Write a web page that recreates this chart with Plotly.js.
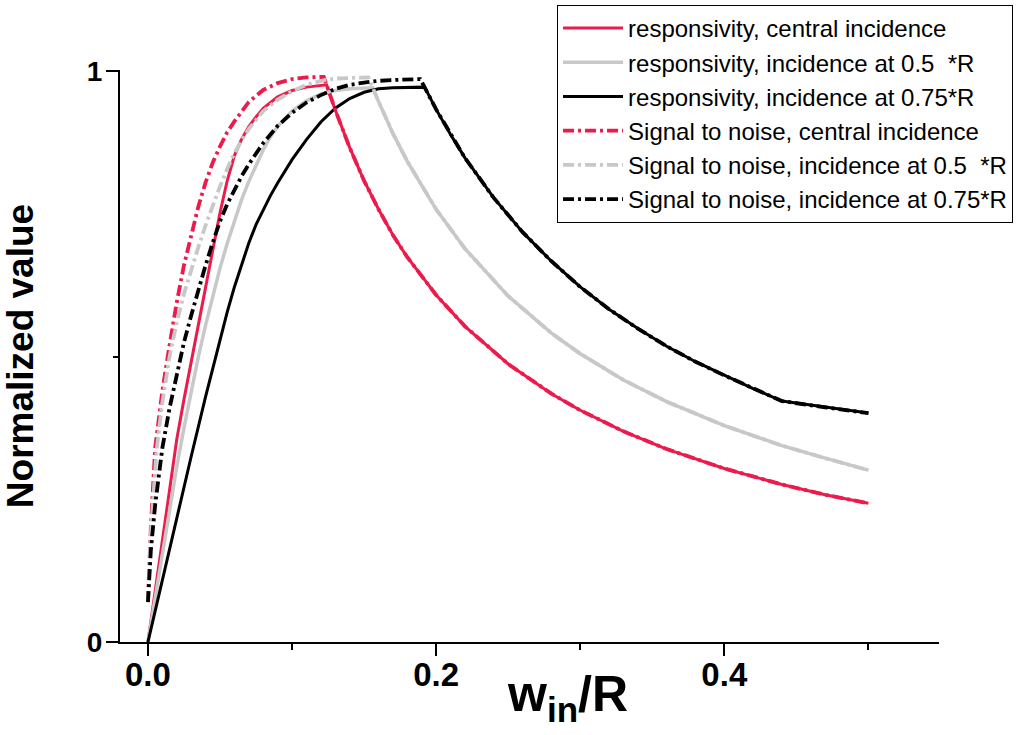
<!DOCTYPE html>
<html>
<head>
<meta charset="utf-8">
<script src="https://cdn.plot.ly/plotly-3.0.1.min.js"></script>
<style>html,body{margin:0;padding:0;background:#fff;}#chart{width:1020px;height:735px;}</style>
</head>
<body>
<div id="chart"></div>
<script>
// ---- data ----
const names = [
  "responsivity, central incidence",
  "responsivity, incidence at 0.5\u00a0 *R",
  "responsivity, incidence at 0.75*R",
  "Signal to noise, central incidence",
  "Signal to noise, incidence at 0.5\u00a0 *R",
  "Signal to noise, incidence at 0.75*R"
];

// responsivity, central incidence
const xRespC = [0,0.005,0.01,0.015,0.02,0.025,0.03,0.035,0.04,0.045,0.05,0.055,0.06,0.065,0.07,0.075,0.08,0.09,0.1,0.11,0.124,
  0.13,0.14,0.15,0.16,0.17,0.18,0.2,0.22,0.25,0.28,0.3,0.33,0.36,0.4,0.44,0.47,0.5];
const yRespC = [0,0.09,0.18,0.27,0.355,0.425,0.49,0.555,0.622,0.69,0.752,0.808,0.852,0.881,0.903,0.92,0.935,0.955,0.966,0.972,0.976,
  0.932,0.866,0.808,0.758,0.713,0.674,0.608,0.553,0.487,0.435,0.406,0.369,0.338,0.304,0.276,0.258,0.243];

// responsivity, incidence at 0.5*R
const xResp05 = [0,0.005,0.01,0.015,0.02,0.025,0.03,0.035,0.04,0.045,0.05,0.055,0.06,0.065,0.07,0.075,0.08,0.085,0.09,0.1,0.11,0.12,0.13,0.14,0.156,
  0.16,0.17,0.18,0.2,0.22,0.25,0.28,0.3,0.33,0.36,0.4,0.44,0.47,0.5];
const yResp05 = [0,0.078,0.155,0.232,0.307,0.375,0.44,0.5,0.555,0.607,0.655,0.698,0.738,0.775,0.807,0.836,0.862,0.885,0.903,0.93,0.948,0.96,0.966,0.969,0.971,
  0.947,0.891,0.842,0.758,0.689,0.606,0.541,0.505,0.459,0.421,0.379,0.344,0.322,0.301];

// responsivity, incidence at 0.75*R
const xResp075 = [0,0.01,0.02,0.03,0.04,0.05,0.055,0.06,0.065,0.07,0.075,0.08,0.085,0.09,0.095,0.1,0.11,0.12,0.13,0.14,0.15,0.16,0.17,0.18,0.192,
  0.2,0.21,0.22,0.24,0.26,0.28,0.3,0.32,0.34,0.36,0.38,0.4,0.42,0.44,0.47,0.5];
const yResp075 = [0,0.109,0.218,0.325,0.43,0.53,0.578,0.622,0.662,0.699,0.731,0.758,0.782,0.804,0.825,0.845,0.88,0.911,0.935,0.952,0.963,0.969,0.971,0.972,0.972,
  0.933,0.889,0.848,0.778,0.718,0.667,0.622,0.583,0.549,0.518,0.491,0.467,0.444,0.422,0.411,0.401];

// signal to noise, central incidence
const xSnrC = [0,0.002,0.005,0.01,0.015,0.02,0.025,0.03,0.035,0.04,0.045,0.05,0.055,0.06,0.07,0.08,0.09,0.1,0.11,0.122,
  0.13,0.14,0.15,0.16,0.17,0.18,0.2,0.22,0.25,0.28,0.3,0.33,0.36,0.4,0.44,0.47,0.5];
const ySnrC = [0.07,0.2,0.34,0.44,0.52,0.595,0.66,0.713,0.763,0.805,0.84,0.868,0.893,0.912,0.946,0.967,0.979,0.986,0.989,0.99,
  0.932,0.866,0.808,0.758,0.713,0.674,0.608,0.553,0.487,0.435,0.406,0.369,0.338,0.304,0.276,0.258,0.243];

// signal to noise, incidence at 0.5*R
const xSnr05 = [0,0.002,0.006,0.01,0.015,0.02,0.025,0.03,0.035,0.04,0.045,0.05,0.055,0.06,0.065,0.07,0.08,0.09,0.1,0.11,0.12,0.13,0.14,0.153,
  0.16,0.17,0.18,0.2,0.22,0.25,0.28,0.3,0.33,0.36,0.4,0.44,0.47,0.5];
const ySnr05 = [0.07,0.19,0.336,0.42,0.5,0.56,0.61,0.652,0.692,0.73,0.765,0.798,0.829,0.856,0.879,0.899,0.93,0.95,0.965,0.976,0.983,0.987,0.988,0.989,
  0.947,0.891,0.842,0.758,0.689,0.606,0.541,0.505,0.459,0.421,0.379,0.344,0.322,0.301];

// signal to noise, incidence at 0.75*R
const xSnr075 = [0,0.002,0.005,0.01,0.015,0.02,0.025,0.03,0.035,0.04,0.045,0.05,0.055,0.06,0.065,0.07,0.075,0.08,0.09,0.1,0.11,0.12,0.13,0.14,0.15,0.16,0.175,0.189,
  0.2,0.21,0.22,0.24,0.26,0.28,0.3,0.32,0.34,0.36,0.38,0.4,0.42,0.44,0.47,0.5];
const ySnr075 = [0.07,0.16,0.24,0.34,0.41,0.47,0.525,0.572,0.617,0.66,0.7,0.737,0.767,0.793,0.816,0.837,0.856,0.874,0.904,0.927,0.945,0.958,0.969,0.976,0.98,0.983,0.985,0.986,
  0.933,0.889,0.848,0.778,0.718,0.667,0.622,0.583,0.549,0.518,0.491,0.467,0.444,0.422,0.411,0.401];

const xTickVals = [0, 0.2, 0.4];
const xTickText = ["0.0", "0.2", "0.4"];
const xMinorVals = [0.1, 0.3, 0.5];
const yTickVals = [0, 1];
const yTickText = ["0", "1"];
const yMinorVals = [0.5];

// ---- styling ----
const RED = "#EC1B4B", GRAY = "#C8C8C8", BLACK = "#000000";
const DD = "11px,4px,3px,4px";
const FONT = "Liberation Sans, Arial, sans-serif";

function tr(x, y, name, color, dash, w) {
  return {x: x, y: y, name: name, type: "scatter", mode: "lines",
          line: {color: color, width: w, dash: dash}};
}

const data = [
  tr(xRespC, yRespC, names[0], RED, "solid", 3),
  tr(xResp05, yResp05, names[1], GRAY, "solid", 3.5),
  tr(xResp075, yResp075, names[2], BLACK, "solid", 3),
  tr(xSnrC, ySnrC, names[3], RED, DD, 3.8),
  tr(xSnr05, ySnr05, names[4], GRAY, DD, 3.8),
  tr(xSnr075, ySnr075, names[5], BLACK, DD, 3.8)
];

const layout = {
  width: 1020, height: 735,
  margin: {l: 120, r: 81, t: 70, b: 93, pad: 0, autoexpand: false},
  paper_bgcolor: "#fff", plot_bgcolor: "#fff",
  font: {family: FONT, color: "#000"},
  showlegend: true,
  legend: {
    x: 1.0904, xanchor: "right", y: 1.1136, yanchor: "top",
    bgcolor: "#fff", bordercolor: "#000", borderwidth: 1,
    font: {family: FONT, size: 24, color: "#000"},
    itemwidth: 60, tracegroupgap: 0
  },
  xaxis: {
    range: [-0.0194, 0.549],
    tickmode: "array", tickvals: xTickVals, ticktext: xTickText,
    ticks: "outside", ticklen: 12, tickwidth: 2, tickcolor: "#000",
    ticklabelstandoff: -10,
    showline: true, linewidth: 2, linecolor: "#000",
    showgrid: false, zeroline: false,
    tickfont: {family: FONT, size: 33, weight: 700, color: "#000"},
    minor: {tickmode: "array", tickvals: xMinorVals, ticks: "outside", ticklen: 6, tickwidth: 2, tickcolor: "#000", showgrid: false}
  },
  yaxis: {
    range: [0, 1.002],
    tickmode: "array", tickvals: yTickVals, ticktext: yTickText,
    ticks: "outside", ticklen: 12, tickwidth: 2, tickcolor: "#000",
    ticklabelstandoff: -2,
    showline: true, linewidth: 2, linecolor: "#000",
    showgrid: false, zeroline: false,
    tickfont: {family: FONT, size: 28, weight: 700, color: "#000"},
    minor: {tickmode: "array", tickvals: yMinorVals, ticks: "outside", ticklen: 5, tickwidth: 2, tickcolor: "#000", showgrid: false},
    title: {text: "Normalized value", standoff: 46, font: {family: FONT, size: 37, weight: 700, color: "#000"}}
  },
  annotations: [{
    text: "w<sub>in</sub>/R", xref: "paper", yref: "paper",
    x: 0.547, xanchor: "center", y: -0.038, yanchor: "top",
    showarrow: false, font: {family: FONT, size: 50, weight: 700, color: "#000"}
  }]
};

Plotly.newPlot("chart", data, layout, {displayModeBar: false, staticPlot: true});
</script>
</body>
</html>
